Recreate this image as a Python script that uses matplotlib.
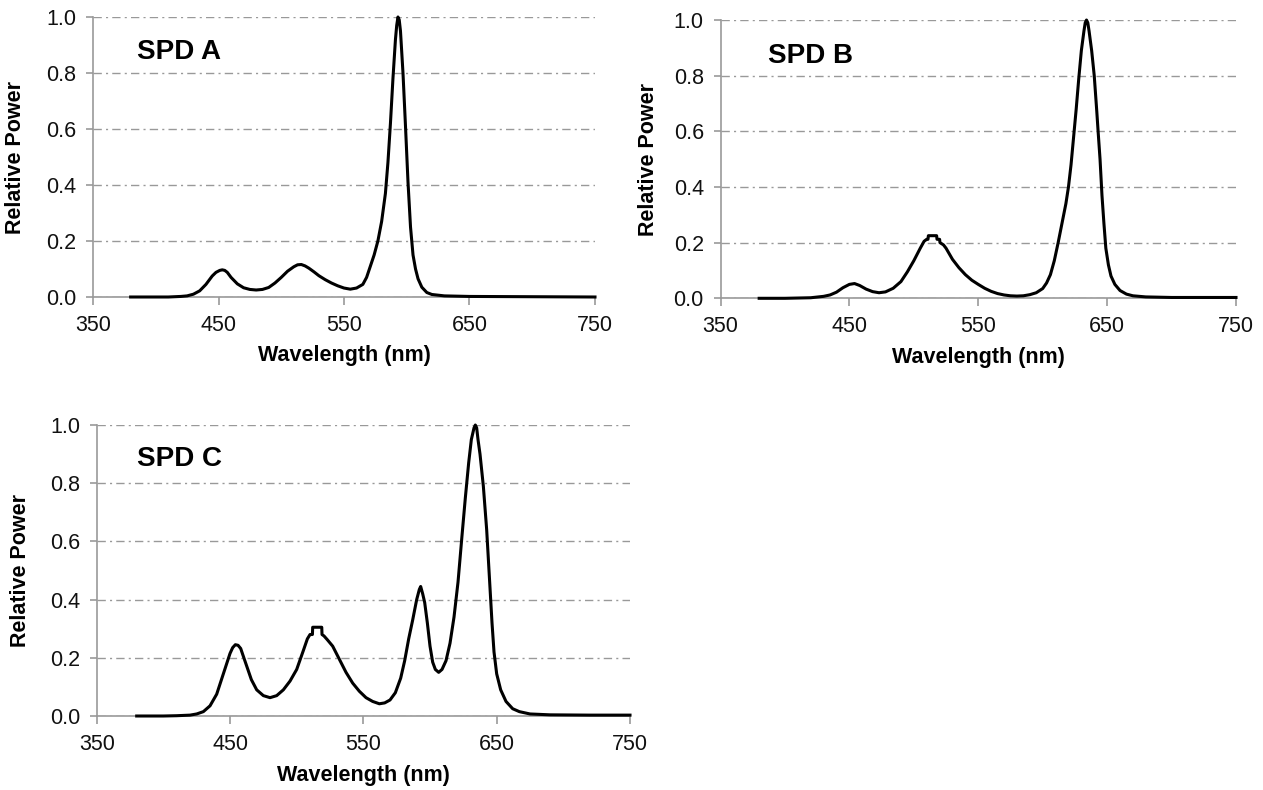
import matplotlib.pyplot as plt

plt.rcParams['font.family'] = ['Liberation Sans', 'DejaVu Sans']

# wavelength (nm) and relative power
wl_a = [380, 400, 410, 420, 425, 430, 435, 440, 445, 448, 451, 453, 455, 457,
        460, 465, 470, 475, 480, 485, 490, 495, 500, 505, 510, 513, 516, 519,
        522, 526, 530, 535, 540, 545, 550, 555, 560, 565, 568, 571, 574, 577,
        580, 583, 585, 587, 589, 591, 592, 593, 594, 595, 597, 599, 601, 603,
        605, 607, 609, 612, 616, 620, 630, 650, 700, 750]
spd_a = [0.0, 0.0, 0.0, 0.002, 0.004, 0.01, 0.022, 0.045, 0.075, 0.088, 0.095,
         0.097, 0.095, 0.088, 0.07, 0.047, 0.033, 0.027, 0.025, 0.027, 0.034,
         0.05, 0.07, 0.092, 0.108, 0.115, 0.116, 0.111, 0.103, 0.09, 0.076,
         0.062, 0.05, 0.04, 0.032, 0.028, 0.032, 0.045, 0.07, 0.11, 0.15, 0.2,
         0.27, 0.37, 0.48, 0.62, 0.78, 0.92, 0.97, 1.0, 0.99, 0.95, 0.8, 0.61,
         0.41, 0.25, 0.15, 0.1, 0.065, 0.035, 0.016, 0.009, 0.004, 0.002,
         0.001, 0.0]

wl_b = [380, 400, 420, 430, 435, 440, 445, 450, 454, 458, 463, 468, 473, 478,
        484, 490, 495, 500, 505, 508, 510, 511, 511.3, 517.7, 518, 520, 520.3,
        523, 525, 530, 535, 540, 545, 550, 555, 560, 565, 570, 575, 580, 585,
        590, 595, 600, 603, 606, 609, 612, 615, 618, 620, 622, 624, 626, 628,
        630, 632, 633, 634, 635, 636, 638, 640, 642, 643, 644.5, 646, 647.5,
        649, 651, 653, 656, 660, 665, 670, 680, 700, 750]
spd_b = [0.0, 0.0, 0.002, 0.007, 0.012, 0.022, 0.038, 0.05, 0.053, 0.046,
         0.033, 0.024, 0.02, 0.023, 0.036, 0.06, 0.095, 0.135, 0.18, 0.205,
         0.212, 0.212, 0.225, 0.225, 0.212, 0.212, 0.2, 0.192, 0.18, 0.14,
         0.11, 0.085, 0.065, 0.05, 0.036, 0.025, 0.017, 0.012, 0.009, 0.008,
         0.009, 0.013, 0.02, 0.035, 0.055, 0.085, 0.135, 0.2, 0.27, 0.34, 0.4,
         0.48, 0.58, 0.68, 0.79, 0.89, 0.96, 0.99, 1.0, 0.99, 0.96, 0.89, 0.8,
         0.67, 0.6, 0.5, 0.37, 0.27, 0.18, 0.12, 0.08, 0.05, 0.028, 0.015,
         0.009, 0.005, 0.003, 0.003]

wl_c = [380, 400, 410, 420, 425, 430, 435, 440, 445, 450, 452, 454, 456, 458,
        460, 463, 466, 470, 475, 480, 485, 490, 495, 500, 505, 508, 510, 511.8,
        512, 518.8, 519, 520.5, 523, 527, 532, 537, 542, 547, 552, 557, 562,
        566, 570, 574, 578, 581, 584, 587, 590, 592, 593, 594.5, 596, 598, 600,
        602, 604, 606.5, 609, 612, 615, 618, 621, 624, 626.5, 629, 631, 633,
        634, 635, 636, 637.5, 640, 642.5, 644.5, 646.5, 648, 650, 653, 657,
        662, 667, 675, 690, 720, 750]
spd_c = [0.0, 0.0, 0.001, 0.003, 0.007, 0.015, 0.035, 0.075, 0.145, 0.215,
         0.235, 0.245, 0.243, 0.232, 0.205, 0.165, 0.125, 0.09, 0.07, 0.063,
         0.07, 0.09, 0.12, 0.16, 0.225, 0.265, 0.28, 0.28, 0.305, 0.305, 0.28,
         0.275, 0.262, 0.24, 0.195, 0.15, 0.113, 0.085, 0.063, 0.05, 0.042,
         0.045, 0.055, 0.08, 0.13, 0.19, 0.265, 0.33, 0.4, 0.435, 0.445, 0.42,
         0.39, 0.32, 0.24, 0.185, 0.16, 0.15, 0.16, 0.19, 0.25, 0.34, 0.46,
         0.62, 0.75, 0.87, 0.95, 0.99, 1.0, 0.99, 0.95, 0.9, 0.79, 0.64, 0.48,
         0.32, 0.22, 0.145, 0.09, 0.05, 0.025, 0.015, 0.007, 0.004, 0.003,
         0.003]

x_ticks = [350, 450, 550, 650, 750]
y_ticks = [0.0, 0.2, 0.4, 0.6, 0.8, 1.0]

panels = [
    ('SPD A', wl_a, spd_a, [93 / 1263, 493 / 790, 502 / 1263, 280 / 790],
     (0.088, 0.875), -0.133, -0.171),
    ('SPD B', wl_b, spd_b, [720.5 / 1263, 491.7 / 790, 515.5 / 1263, 278.3 / 790],
     (0.092, 0.872), -0.119, -0.175),
    ('SPD C', wl_c, spd_c, [96.7 / 1263, 74 / 790, 533.3 / 1263, 291 / 790],
     (0.076, 0.883), -0.123, -0.169),
]

fig = plt.figure(figsize=(12.63, 7.90), dpi=100)

for name, wl, spd, rect, txt_pos, ylab_x, xlab_y in panels:
    ax = fig.add_axes(rect)
    ax.plot(wl, spd, color='black', lw=2.2, clip_on=False, zorder=3)
    ax.set_xlim(350, 750)
    ax.set_ylim(0, 1)
    ax.set_xticks(x_ticks)
    ax.set_yticks(y_ticks)
    ax.set_yticklabels(['{:.1f}'.format(v) for v in y_ticks])
    ax.grid(axis='y', color='#999999', lw=1.0, linestyle=(0, (6, 3, 1.5, 3)))
    for side in ('top', 'right'):
        ax.spines[side].set_visible(False)
    for side in ('left', 'bottom'):
        ax.spines[side].set_color('#999999')
        ax.spines[side].set_linewidth(1.2)
    ax.tick_params(axis='both', colors='#999999', labelcolor='#111111',
                   labelsize=15.5, width=1.2)
    ax.tick_params(axis='y', length=5, pad=7)
    ax.tick_params(axis='x', length=6, pad=7)
    ax.set_xlabel('Wavelength (nm)', fontsize=15.5, fontweight='bold')
    ax.set_ylabel('Relative Power', fontsize=15.5, fontweight='bold')
    ax.xaxis.set_label_coords(0.5, xlab_y)
    ax.yaxis.set_label_coords(ylab_x, 0.5)
    ax.text(txt_pos[0], txt_pos[1], name, transform=ax.transAxes,
            fontsize=20, fontweight='bold', va='center', ha='left')

fig.savefig('out.png', dpi=100)
